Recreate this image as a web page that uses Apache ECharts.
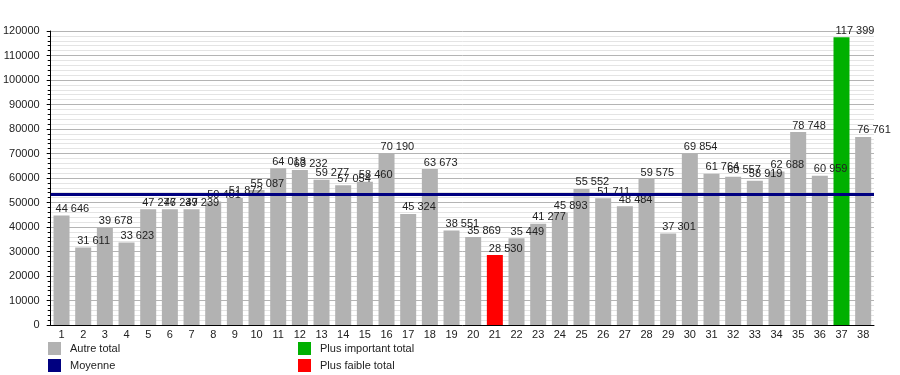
<!DOCTYPE html>
<html><head><meta charset="utf-8">
<script src="https://cdn.jsdelivr.net/npm/echarts@6/dist/echarts.min.js"></script>
<style>html,body{margin:0;padding:0;background:#fff}#c{width:900px;height:375px}</style>
</head><body><div id="c"></div>
<script>
const categories = ['1','2','3','4','5','6','7','8','9','10','11','12','13','14','15','16','17','18','19','20','21','22','23','24','25','26','27','28','29','30','31','32','33','34','35','36','37','38'];
const totals = [44646,31611,39678,33623,47276,47239,47239,50451,51872,55087,64018,63232,59277,57054,58460,70190,45324,63673,38551,35869,28530,35449,41277,45893,55552,51711,48484,59575,37301,69854,61764,60557,58919,62688,78748,60959,117399,76761];
const moyenne = 53300;
const yTicks = {min:0, max:120000, interval:10000};
const legendLeft = ['Autre total','Moyenne'];
const legendRight = ['Plus important total','Plus faible total'];

const COL_OTHER='#b2b2b2', COL_MAX='#00b000', COL_MIN='#ff0000', COL_MEAN='#000080';
const maxV = Math.max(...totals), minV = Math.min(...totals);
const fmt = v => String(v).replace(/\B(?=(\d{3})+(?!\d))/g,' ');
const font = '"Liberation Sans", Arial, sans-serif';

const chart = echarts.init(document.getElementById('c'), null, {renderer:'canvas'});
const legendCommon = {orient:'vertical', top:342, padding:0, itemWidth:13, itemHeight:13, itemGap:4, icon:'rect',
  textStyle:{fontSize:11, color:'#222', fontFamily:font, padding:[0,0,0,4]}, selectedMode:false};
chart.setOption({
  animation:false,
  textStyle:{fontFamily:font},
  grid:{left:49, right:26, top:31, bottom:50, containLabel:false},
  legend:[
    Object.assign({data:legendLeft, left:48}, legendCommon),
    Object.assign({data:legendRight, left:298}, legendCommon)
  ],
  xAxis:{type:'category', data:categories,
    axisLine:{lineStyle:{color:'#000', width:1}}, axisTick:{show:false},
    axisLabel:{fontSize:11, color:'#222', margin:4, fontFamily:font, interval:0}},
  yAxis:{type:'value', min:yTicks.min, max:yTicks.max, interval:yTicks.interval,
    axisLine:{show:true, lineStyle:{color:'#000', width:1}},
    axisTick:{show:true, length:4, inside:false, lineStyle:{color:'#000'}},
    minorTick:{show:true, splitNumber:5, length:3, lineStyle:{color:'#000'}},
    splitLine:{show:true, lineStyle:{color:'#b4b4b4', width:1}},
    minorSplitLine:{show:true, lineStyle:{color:'#e4e4e4', width:1}},
    axisLabel:{fontSize:11, color:'#222', margin:11, fontFamily:font, formatter:v=>String(v)}},
  series:[
    {name:'Autre total', type:'bar', barWidth:16, itemStyle:{color:COL_OTHER},
     data: totals.map(v => ({value:v, itemStyle:{color: v===maxV?COL_MAX:(v===minV?COL_MIN:COL_OTHER)}})),
     label:{show:true, position:[2,-1], align:'left', verticalAlign:'bottom', fontSize:11, color:'#222', fontFamily:font,
       formatter:p=>fmt(p.value)},
     markLine:{silent:true, symbol:['none','none'], label:{show:false},
       lineStyle:{color:COL_MEAN, width:3, type:'solid'}, data:[{yAxis:moyenne}]},
     z:2},
    {name:'Moyenne', type:'line', data:[], itemStyle:{color:COL_MEAN}, lineStyle:{color:COL_MEAN}},
    {name:'Plus important total', type:'line', data:[], itemStyle:{color:COL_MAX}},
    {name:'Plus faible total', type:'line', data:[], itemStyle:{color:COL_MIN}}
  ]
});
</script></body></html>
